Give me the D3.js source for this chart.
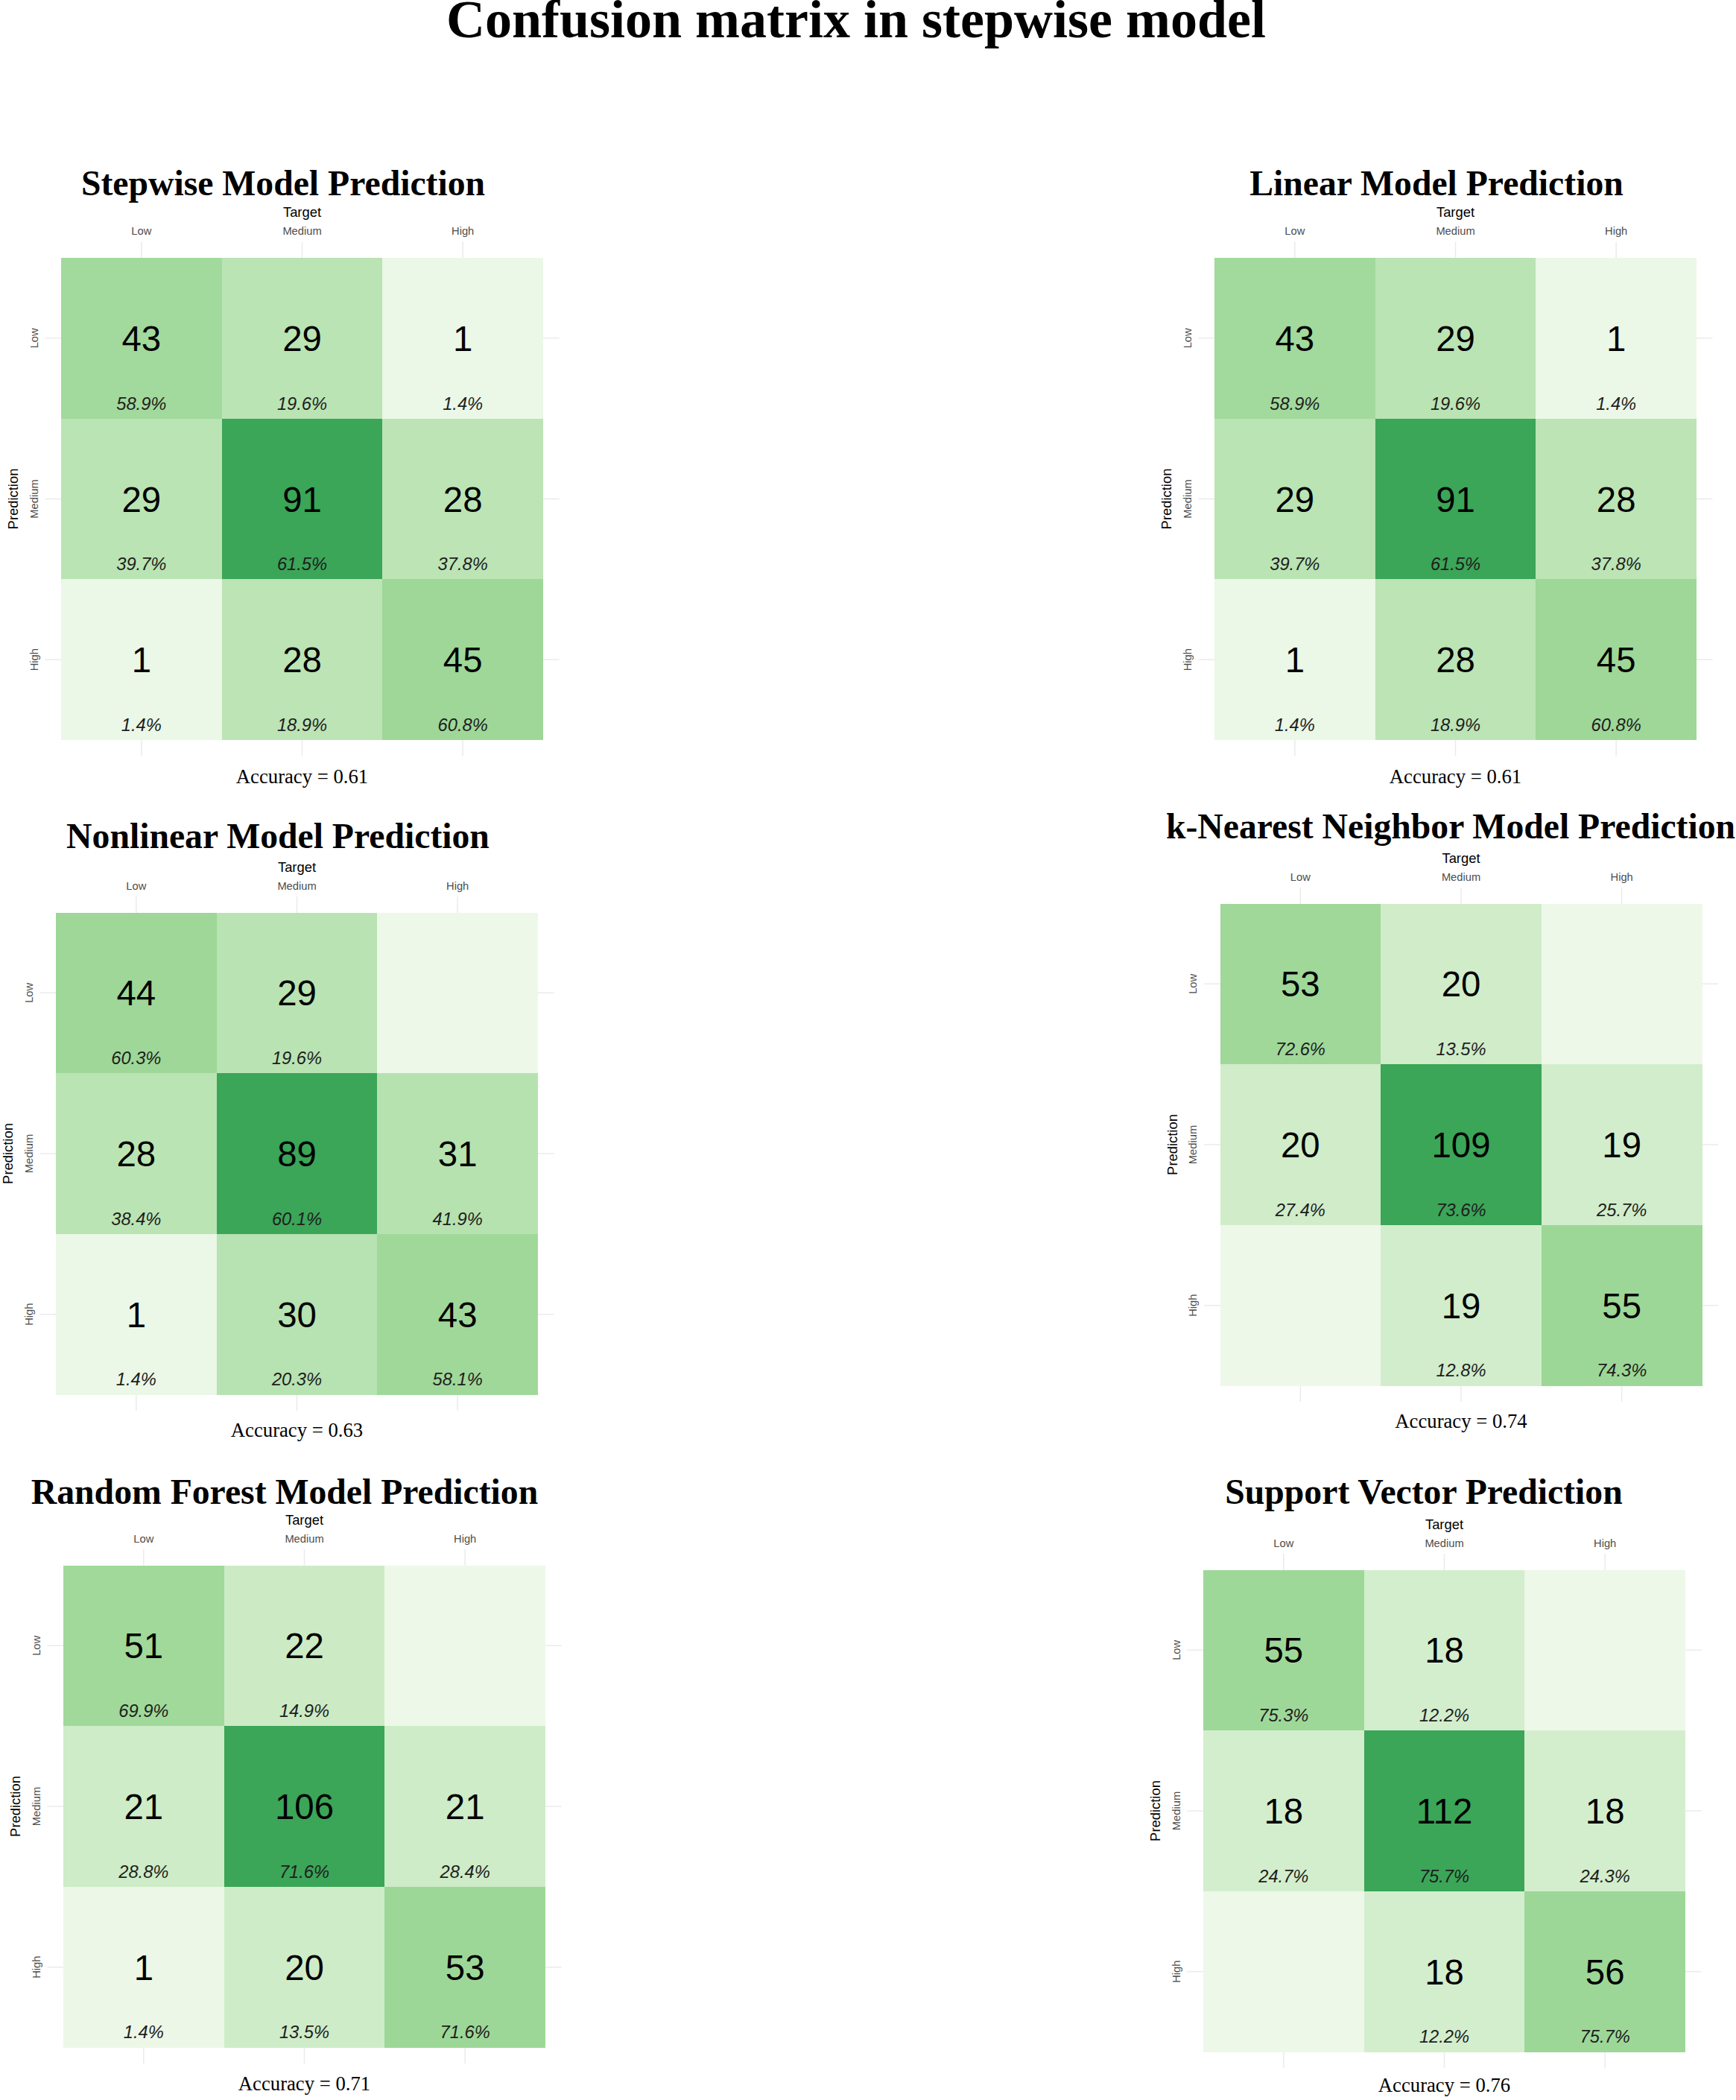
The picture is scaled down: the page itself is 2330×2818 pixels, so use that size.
<!DOCTYPE html>
<html>
<head>
<meta charset="utf-8">
<script src="https://cdn.jsdelivr.net/npm/d3@7"></script>
<style>
  body { margin: 0; background: #fff; }
  svg { display: block; }
</style>
</head>
<body>
<svg id="chart"></svg>
<script>
// ---- data ----
var classes = ['Low', 'Medium', 'High']
var modelTitles = ['Stepwise Model Prediction', 'Linear Model Prediction', 'Nonlinear Model Prediction',
  'k-Nearest Neighbor Model Prediction', 'Random Forest Model Prediction', 'Support Vector Prediction']
var accuracy = [0.61, 0.61, 0.63, 0.74, 0.71, 0.76]

// rows = Prediction (Low, Medium, High), cols = Target (Low, Medium, High)
var stepwiseCounts = [[43, 29, 1], [29, 91, 28], [1, 28, 45]]
var stepwisePct = [[58.9, 19.6, 1.4], [39.7, 61.5, 37.8], [1.4, 18.9, 60.8]]
var linearCounts = [[43, 29, 1], [29, 91, 28], [1, 28, 45]]
var linearPct = [[58.9, 19.6, 1.4], [39.7, 61.5, 37.8], [1.4, 18.9, 60.8]]
var nonlinearCounts = [[44, 29, 0], [28, 89, 31], [1, 30, 43]]
var nonlinearPct = [[60.3, 19.6, null], [38.4, 60.1, 41.9], [1.4, 20.3, 58.1]]
var knnCounts = [[53, 20, 0], [20, 109, 19], [0, 19, 55]]
var knnPct = [[72.6, 13.5, null], [27.4, 73.6, 25.7], [null, 12.8, 74.3]]
var rfCounts = [[51, 22, 0], [21, 106, 21], [1, 20, 53]]
var rfPct = [[69.9, 14.9, null], [28.8, 71.6, 28.4], [1.4, 13.5, 71.6]]
var svCounts = [[55, 18, 0], [18, 112, 18], [0, 18, 56]]
var svPct = [[75.3, 12.2, null], [24.7, 75.7, 24.3], [null, 12.2, 75.7]]

var allCounts = [stepwiseCounts, linearCounts, nonlinearCounts, knnCounts, rfCounts, svCounts]
var allPct = [stepwisePct, linearPct, nonlinearPct, knnPct, rfPct, svPct]

// ---- layout (tile block origin, title centre/baseline, accuracy baseline) ----
var layout = [
  { gx: 82, gy: 346, tx: 380, ty: 262, ay: 1051 },
  { gx: 1630, gy: 346, tx: 1928, ty: 262, ay: 1051 },
  { gx: 75, gy: 1224.5, tx: 373, ty: 1138, ay: 1928 },
  { gx: 1637.5, gy: 1212.5, tx: 1947, ty: 1125, ay: 1915.5 },
  { gx: 85, gy: 2100.5, tx: 382, ty: 2017.5, ay: 2805 },
  { gx: 1615, gy: 2106.5, tx: 1911, ty: 2017.5, ay: 2806.5 }
]

var greens = ['#edf8e9', '#c7e9c0', '#a1d99b', '#74c476', '#41ab5d', '#238b45', '#005a32']
var darkness = 0.7
var tileSpan = 647
var sans = '"Liberation Sans", Arial, sans-serif'
var serif = '"Liberation Serif", "Times New Roman", serif'

var svg = d3.select('#chart').attr('width', 2330).attr('height', 2818)

svg.append('text').attr('x', 1149).attr('y', 50)
  .attr('text-anchor', 'middle')
  .style('font-family', serif).style('font-weight', 'bold').style('font-size', '72px')
  .text('Confusion matrix in stepwise model')

allCounts.forEach(function (counts, i) {
  var L = layout[i]
  var pct = allPct[i]
  var x = d3.scaleLinear().domain([0.5, 3.5]).range([L.gx, L.gx + tileSpan])
  var y = d3.scaleLinear().domain([0.5, 3.5]).range([L.gy, L.gy + tileSpan])
  var u = x(1) - x(0)
  var x0 = x(0.4), x1 = x(3.6), y0 = y(0.4), y1 = y(3.6)

  var cells = []
  counts.forEach(function (row, r) {
    row.forEach(function (c, k) { cells.push({ r: r, k: k, c: c, p: pct[r][k] }) })
  })
  var maxC = d3.max(cells, function (d) { return d.c })
  var color = d3.scaleLinear()
    .domain(greens.map(function (_, j) { return j / (greens.length - 1) * maxC / darkness }))
    .range(greens)
    .interpolate(d3.interpolateLab)
    .clamp(true)

  var g = svg.append('g')

  // panel grid (only visible outside the tiles)
  g.selectAll('.vgrid').data(classes).join('line').attr('class', 'vgrid')
    .attr('x1', function (d, j) { return x(j + 1) }).attr('x2', function (d, j) { return x(j + 1) })
    .attr('y1', y0).attr('y2', y1)
    .attr('stroke', '#ebebeb').attr('stroke-width', 1.5)
  g.selectAll('.hgrid').data(classes).join('line').attr('class', 'hgrid')
    .attr('y1', function (d, j) { return y(j + 1) }).attr('y2', function (d, j) { return y(j + 1) })
    .attr('x1', x0).attr('x2', x1)
    .attr('stroke', '#ebebeb').attr('stroke-width', 1.5)

  g.selectAll('rect').data(cells).join('rect')
    .attr('x', function (d) { return x(d.k + 0.5) })
    .attr('y', function (d) { return y(d.r + 0.5) })
    .attr('width', u).attr('height', u)
    .attr('shape-rendering', 'crispEdges')
    .attr('fill', function (d) { return color(d.c) })

  var shown = cells.filter(function (d) { return d.c > 0 })

  g.selectAll('.count').data(shown).join('text').attr('class', 'count')
    .attr('x', function (d) { return x(d.k + 1) })
    .attr('y', function (d) { return y(d.r + 1) + 17 })
    .attr('text-anchor', 'middle')
    .style('font-family', sans).style('font-size', '47.4px').style('fill', '#000')
    .text(function (d) { return d.c })

  g.selectAll('.perc').data(shown.filter(function (d) { return d.p != null })).join('text').attr('class', 'perc')
    .attr('x', function (d) { return x(d.k + 1) })
    .attr('y', function (d) { return y(d.r + 1.444) })
    .attr('text-anchor', 'middle')
    .style('font-family', sans).style('font-style', 'italic').style('font-size', '23.7px').style('fill', '#1e1e1e')
    .text(function (d) { return d3.format('.1f')(d.p) + '%' })

  // top axis
  g.selectAll('.xtick').data(classes).join('text').attr('class', 'xtick')
    .attr('x', function (d, j) { return x(j + 1) }).attr('y', y0 - 9)
    .attr('text-anchor', 'middle')
    .style('font-family', sans).style('font-size', '14.7px').style('fill', '#4d4d4d')
    .text(function (d) { return d })
  g.append('text').attr('x', x(2)).attr('y', y0 - 33)
    .attr('text-anchor', 'middle')
    .style('font-family', sans).style('font-size', '18.4px').style('fill', '#000')
    .text('Target')

  // left axis
  g.selectAll('.ytick').data(classes).join('text').attr('class', 'ytick')
    .attr('transform', function (d, j) { return 'translate(' + (x0 - 9.5) + ',' + y(j + 1) + ') rotate(-90)' })
    .attr('text-anchor', 'middle')
    .style('font-family', sans).style('font-size', '14.7px').style('fill', '#4d4d4d')
    .text(function (d) { return d })
  g.append('text')
    .attr('transform', 'translate(' + (x0 - 36) + ',' + y(2) + ') rotate(-90)')
    .attr('text-anchor', 'middle')
    .style('font-family', sans).style('font-size', '18.4px').style('fill', '#000')
    .text('Prediction')

  g.append('text').attr('x', L.tx).attr('y', L.ty)
    .attr('text-anchor', 'middle')
    .style('font-family', serif).style('font-weight', 'bold').style('font-size', '47.7px')
    .text(modelTitles[i])

  g.append('text').attr('x', x(2)).attr('y', L.ay)
    .attr('text-anchor', 'middle')
    .style('font-family', serif).style('font-size', '26.7px')
    .text('Accuracy = ' + d3.format('.2f')(accuracy[i]))
})
</script>
</body>
</html>
